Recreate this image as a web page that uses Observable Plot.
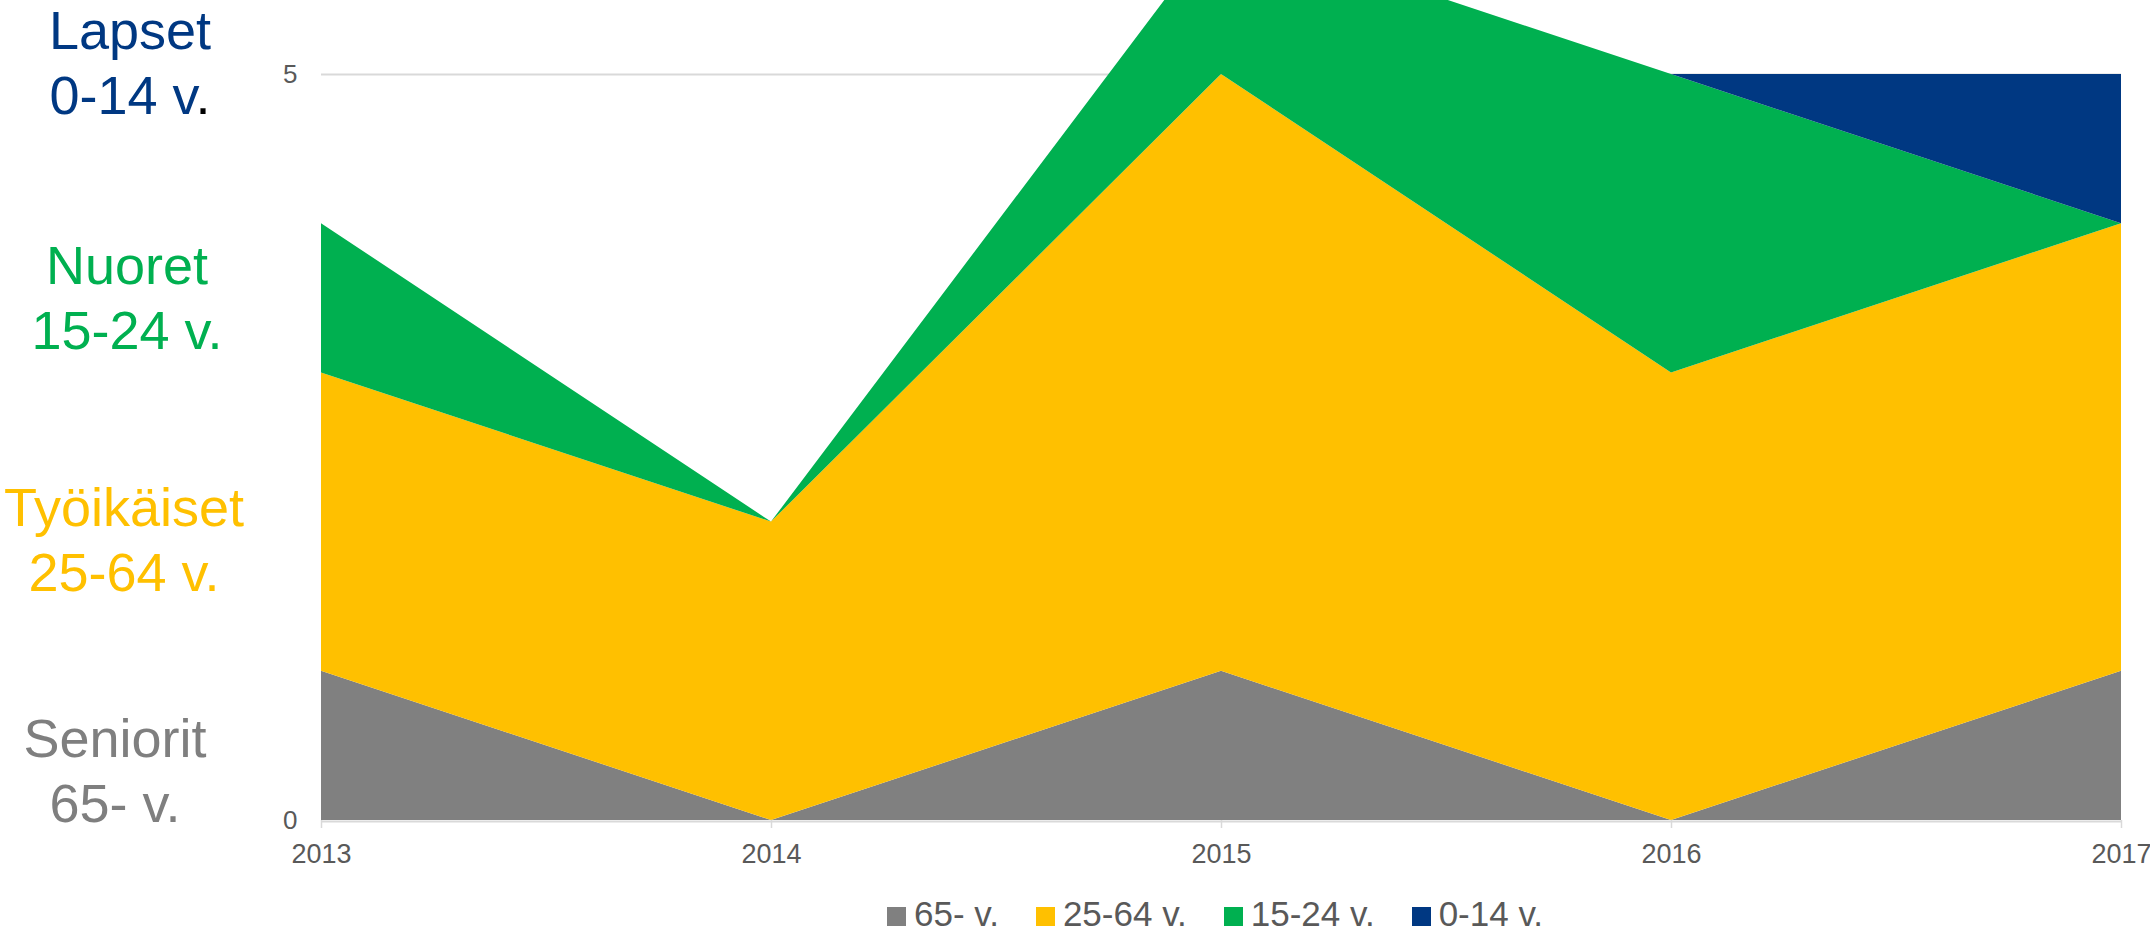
<!DOCTYPE html>
<html>
<head>
<meta charset="utf-8">
<script src="https://cdn.jsdelivr.net/npm/d3@7"></script>
<script src="https://cdn.jsdelivr.net/npm/@observablehq/plot@0.6"></script>
<style>
  html, body { margin: 0; padding: 0; background: #fff; }
  #wrap { position: relative; width: 2150px; height: 932px; overflow: hidden; font-family: "Liberation Sans", Arial, sans-serif; }
  #chart svg { display: block; }
  .side { position: absolute; width: 300px; text-align: center; font-size: 54px; line-height: 65px; white-space: nowrap; }
  #legend { position: absolute; left: 315px; width: 1800px; top: 896px; text-align: center; font-size: 35px; line-height: 1; color: #595959; white-space: nowrap; }
  #legend .item { display: inline-block; margin: 0 18.5px; }
  #legend .sw { display: inline-block; width: 19px; height: 19px; margin-right: 8px; vertical-align: baseline; }
</style>
</head>
<body>
<div id="wrap">
  <div id="chart"></div>
  <div id="labels"></div>
  <div id="legend"></div>
</div>
<script>
// ---- data ----
const years = [2013, 2014, 2015, 2016, 2017];
const groups = ["65- v.", "25-64 v.", "15-24 v.", "0-14 v."];
const seniors = [1, 0, 1, 0, 1];
const working = [2, 2, 4, 3, 3];
const youth = [1, 0, 1, 2, 0];
const children = [0, 0, 0, 0, 1];
const colors = ["#808080", "#FFC000", "#00B050", "#003882"];
const yTicks = [0, 5];
const sideLabels = [
  {title: "Lapset", sub: "0-14 v", color: "#003882", top: -2, cx: 130},
  {title: "Nuoret", sub: "15-24 v.", color: "#00B050", top: 233, cx: 127},
  {title: "Työikäiset", sub: "25-64 v.", color: "#FFC000", top: 475, cx: 124},
  {title: "Seniorit", sub: "65- v.", color: "#7F7F7F", top: 706, cx: 115}
];

const series = [seniors, working, youth, children];
const rows = groups.flatMap((g, i) => years.map((yr, j) => ({year: yr, group: g, value: series[i][j]})));

const chart = Plot.plot({
  width: 2150,
  height: 880,
  marginLeft: 321,
  marginRight: 29,
  marginTop: 74,
  marginBottom: 60,
  style: {fontFamily: "'Liberation Sans', Arial, sans-serif", background: "white", color: "#595959"},
  x: {domain: [2013, 2017]},
  y: {domain: [0, 5]},
  color: {domain: groups, range: colors},
  marks: [
    Plot.ruleY([5], {stroke: "#d9d9d9", strokeWidth: 2}),
    Plot.areaY(rows, {x: "year", y: "value", z: "group", fill: "group", order: groups}),
    Plot.ruleY([0], {stroke: "#d9d9d9", strokeWidth: 2, dy: 1}),
    Plot.axisX({ticks: years, tickFormat: d3.format("d"), tickSize: 8, tickPadding: 15, stroke: "#d9d9d9", strokeWidth: 1.5, fill: "#595959", fontSize: 27, label: null}),
    Plot.axisY({ticks: yTicks, tickFormat: d3.format("d"), tickSize: 0, tickPadding: 24, fill: "#595959", fontSize: 26, label: null})
  ]
});
document.getElementById("chart").appendChild(chart);

// side labels
const lab = document.getElementById("labels");
sideLabels.forEach((s, i) => {
  const d = document.createElement("div");
  d.className = "side";
  d.style.top = s.top + "px";
  d.style.left = (s.cx - 150) + "px";
  d.style.color = s.color;
  d.innerHTML = s.title + "<br>" + s.sub + (i === 0 ? '<span style="color:#000">.</span>' : "");
  lab.appendChild(d);
});

// legend
const leg = document.getElementById("legend");
groups.forEach((g, i) => {
  const it = document.createElement("span");
  it.className = "item";
  it.innerHTML = `<span class="sw" style="background:${colors[i]}"></span>${g}`;
  leg.appendChild(it);
});
</script>
</body>
</html>
